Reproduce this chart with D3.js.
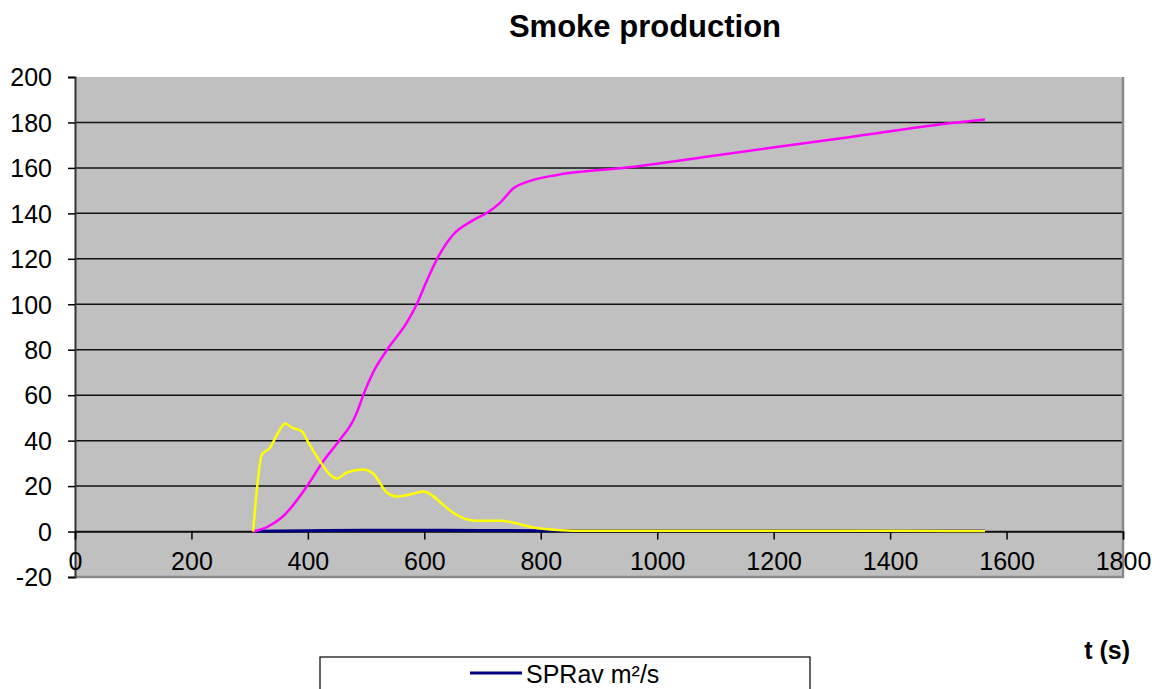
<!DOCTYPE html>
<html>
<head>
<meta charset="utf-8">
<title>Smoke production</title>
<script src="https://cdn.jsdelivr.net/npm/d3@7"></script>
<style>
  body { margin: 0; background: #fff; }
  text { font-family: "Liberation Sans", Arial, sans-serif; fill: #000; }
</style>
</head>
<body>
<svg id="graph" width="1165" height="689"></svg>
<script>
// ticks
var xTicks = [0, 200, 400, 600, 800, 1000, 1200, 1400, 1600, 1800]
var yTicks = [-20, 0, 20, 40, 60, 80, 100, 120, 140, 160, 180, 200]

// magenta series (cumulative)
var tMag = [306, 330, 357, 398, 426, 455, 478, 486, 495, 512, 536, 570, 587, 605, 622, 649, 684, 708, 730, 752, 782, 828, 902, 941, 1100, 1300, 1515, 1563]
var vMag = [0, 2, 6.6, 19.8, 30.8, 40.4, 49, 53.6, 60, 70, 80, 92, 100, 110.8, 120, 130.5, 137, 140.3, 144.6, 150.8, 154.3, 156.9, 159.1, 160, 165.5, 172.5, 180, 181.3]

// yellow series
var tYel = [306, 321, 335, 347, 361, 373, 390, 400, 421, 438, 450, 467, 495, 512, 536, 553, 575, 598, 615, 632, 649, 661, 690, 730, 752, 787, 816, 855, 900, 1000, 1100, 1200, 1300, 1400, 1500, 1563]
var vYel = [0, 33.8, 36.9, 42.6, 47.5, 45.7, 44, 39.6, 30.8, 25, 23.3, 26, 27.3, 25.5, 17.1, 15.4, 16.3, 17.6, 15.6, 11.8, 8.4, 6.6, 4.8, 4.8, 4, 1.8, 0.9, 0.4, 0.3, 0.3, 0.3, 0.3, 0.3, 0.3, 0.2, 0.2]

// SPRav (navy)
var tNav = [306, 400, 500, 600, 700, 800, 900, 1100, 1300, 1563]
var vNav = [0.1, 0.4, 0.6, 0.6, 0.5, 0.4, 0.3, 0.3, 0.3, 0.2]

var svg = d3.select("#graph")

var x = d3.scaleLinear().domain([0, 1800]).range([75, 1123])
var y = d3.scaleLinear().domain([-20, 200]).range([577, 77])
var fmt = d => String(d)   // plain hyphen minus, no thousands comma

// plot area
svg.append("rect")
  .attr("x", x(0)).attr("y", y(200))
  .attr("width", x(1800) - x(0)).attr("height", y(-20) - y(200))
  .attr("fill", "#c0c0c0")

// gridlines
svg.selectAll(".grid")
  .data(yTicks.filter(d => d > -20 && d < 200))
  .enter().append("line")
  .attr("x1", x(0)).attr("x2", x(1800))
  .attr("y1", d => y(d)).attr("y2", d => y(d))
  .attr("stroke", "#111").attr("stroke-width", 1.5)

// borders right/bottom
svg.append("path")
  .attr("d", "M" + x(1800) + "," + y(200) + "V" + y(-20) + "H" + x(0))
  .attr("fill", "none").attr("stroke", "#8a8a8a").attr("stroke-width", 2.5)

// y axis
var yAxis = d3.axisLeft(y).tickValues(yTicks).tickFormat(fmt).tickSize(7).tickPadding(16)
var gy = svg.append("g").attr("transform", "translate(" + x(0) + ",0)").call(yAxis)
gy.select(".domain").attr("stroke", "#333").attr("stroke-width", 2)
gy.selectAll(".tick line").attr("stroke", "#000").attr("stroke-width", 1.5)
gy.selectAll("text").style("font-size", "25px").attr("dy", "0.35em")

// x axis on the zero line
var xAxis = d3.axisBottom(x).tickValues(xTicks).tickFormat(fmt).tickSize(8).tickPadding(13)
var gx = svg.append("g").attr("transform", "translate(0," + y(0) + ")").call(xAxis)
gx.select(".domain").attr("stroke", "#111").attr("stroke-width", 1.5)
gx.selectAll(".tick line").attr("stroke", "#000").attr("stroke-width", 1.5)
gx.selectAll("text").style("font-size", "25px")

// lines
var line = d3.line().x(d => x(d[0])).y(d => y(d[1])).curve(d3.curveMonotoneX)

svg.append("path")
  .datum(d3.zip(tNav, vNav))
  .attr("d", line).attr("fill", "none")
  .attr("stroke", "#000080").attr("stroke-width", 3)

svg.append("path")
  .datum(d3.zip(tMag, vMag))
  .attr("d", line).attr("fill", "none")
  .attr("stroke", "#ff00ff").attr("stroke-width", 2.5)

svg.append("path")
  .datum(d3.zip(tYel, vYel))
  .attr("d", line).attr("fill", "none")
  .attr("stroke", "#ffff00").attr("stroke-width", 2.5)

// title
svg.append("text")
  .attr("x", 645).attr("y", 37)
  .attr("text-anchor", "middle")
  .style("font-size", "31px").style("font-weight", "bold")
  .text("Smoke production")

// axis title
svg.append("text")
  .attr("x", 1130).attr("y", 659)
  .attr("text-anchor", "end")
  .style("font-size", "25px").style("font-weight", "bold")
  .text("t (s)")

// legend
svg.append("rect")
  .attr("x", 320).attr("y", 657)
  .attr("width", 490).attr("height", 40)
  .attr("fill", "#fff").attr("stroke", "#000").attr("stroke-width", 1.2)

svg.append("line")
  .attr("x1", 470).attr("x2", 522)
  .attr("y1", 673).attr("y2", 673)
  .attr("stroke", "#000080").attr("stroke-width", 3)

svg.append("text")
  .attr("x", 526).attr("y", 683)
  .style("font-size", "25px")
  .text("SPRav m²/s")
</script>
</body>
</html>
